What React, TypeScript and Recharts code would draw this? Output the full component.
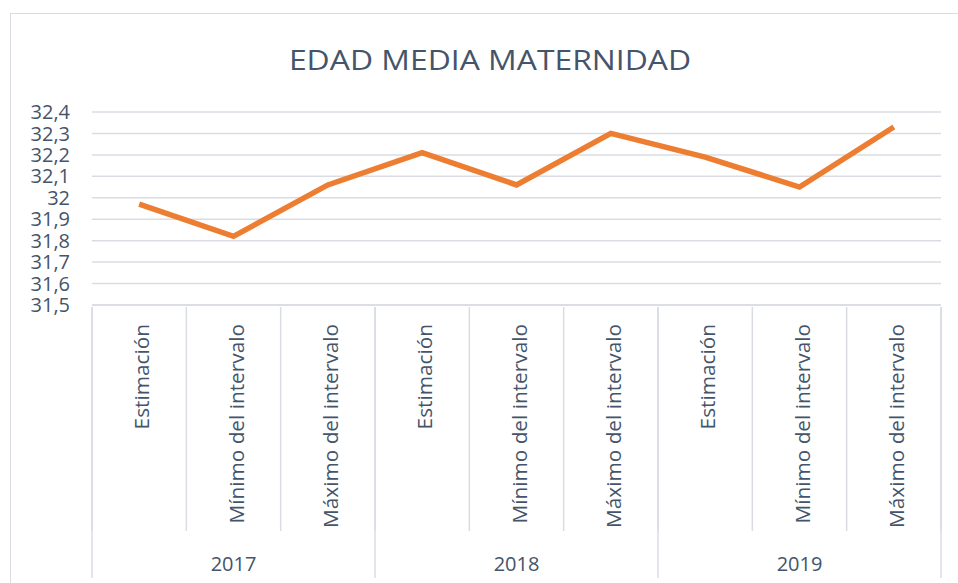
import { CartesianGrid, Line, LineChart, XAxis, YAxis } from 'recharts'

const categories = [
  'Estimación', 'Mínimo del intervalo', 'Máximo del intervalo',
  'Estimación', 'Mínimo del intervalo', 'Máximo del intervalo',
  'Estimación', 'Mínimo del intervalo', 'Máximo del intervalo',
]
const years = ['2017', '2017', '2017', '2018', '2018', '2018', '2019', '2019', '2019']
const edadMedia = [31.97, 31.82, 32.06, 32.21, 32.06, 32.3, 32.19, 32.05, 32.33]
const yTicks = [31.5, 31.6, 31.7, 31.8, 31.9, 32, 32.1, 32.2, 32.3, 32.4]

const data = categories.map((label, i) => ({ label, year: years[i], value: edadMedia[i] }))

const W = 958
const H = 583
const M = { top: 112, right: 17, bottom: 7, left: 10 }
const Y_W = 82
const CAT_H = 224
const YEAR_H = 47
const BAND = (W - M.left - M.right - Y_W) / categories.length
const GRID = '#D9DDE3'
const TEXT = '#44546A'

function CategoryTick({ x, y, payload, index }: any) {
  return (
    <g>
      <line x1={x - BAND / 2} x2={x - BAND / 2} y1={y} y2={y + CAT_H} stroke={GRID} strokeWidth={1.5} />
      {index === categories.length - 1 && (
        <line x1={x + BAND / 2} x2={x + BAND / 2} y1={y} y2={y + CAT_H} stroke={GRID} strokeWidth={1.5} />
      )}
      <text
        transform={`translate(${x + 10},${y + 17}) rotate(-90)`}
        textAnchor="end"
        fill={TEXT}
        fontSize={20.8}
      >
        {payload.value}
      </text>
    </g>
  )
}

function YearTick({ x, y, payload, index }: any) {
  const half = (BAND * 3) / 2
  return (
    <g>
      <line x1={x - half} x2={x - half} y1={y - CAT_H} y2={y + YEAR_H} stroke={GRID} strokeWidth={1.5} />
      {index === 2 && (
        <line x1={x + half} x2={x + half} y1={y - CAT_H} y2={y + YEAR_H} stroke={GRID} strokeWidth={1.5} />
      )}
      <text x={x} y={y + 40} textAnchor="middle" fill={TEXT} fontSize={20}>
        {payload.value}
      </text>
    </g>
  )
}

export default function App() {
  return (
    <div style={{ position: 'absolute', left: 0, top: 0, width: W, height: H, background: '#fff', fontFamily: '"Open Sans", sans-serif', overflow: 'hidden' }}>
      <div style={{ position: 'absolute', left: 10, top: 13, width: 990, height: 620, borderLeft: `1.5px solid ${GRID}`, borderTop: `1.5px solid ${GRID}` }} />
      <div style={{ position: 'absolute', left: 0, top: 41, width: 980, textAlign: 'center', fontSize: 27, color: TEXT, transform: 'scaleX(1.18)', transformOrigin: '490px 0' }}>
        EDAD MEDIA MATERNIDAD
      </div>
      <LineChart width={W} height={H} data={data} margin={M} style={{ position: 'absolute', left: 0, top: 0 }}>
        <CartesianGrid horizontal vertical={false} stroke={GRID} strokeWidth={1.5} />
        <XAxis
          dataKey="label"
          interval={0}
          padding={{ left: BAND / 2, right: BAND / 2 }}
          height={CAT_H}
          tickSize={0}
          tickLine={false}
          axisLine={{ stroke: GRID, strokeWidth: 1.5 }}
          tick={<CategoryTick />}
        />
        <XAxis
          xAxisId="year"
          dataKey="year"
          allowDuplicatedCategory={false}
          interval={0}
          padding={{ left: (BAND * 3) / 2, right: (BAND * 3) / 2 }}
          height={YEAR_H}
          tickSize={0}
          tickLine={false}
          axisLine={false}
          tick={<YearTick />}
        />
        <YAxis
          width={Y_W}
          domain={[31.5, 32.4]}
          ticks={yTicks}
          interval={0}
          axisLine={false}
          tickLine={false}
          tickSize={0}
          tickMargin={22}
          tick={{ fill: TEXT, fontSize: 20 }}
          tickFormatter={(v: number) => String(v).replace('.', ',')}
        />
        <Line
          type="linear"
          dataKey="value"
          stroke="#ED7D31"
          strokeWidth={5.5}
          dot={false}
          activeDot={false}
          isAnimationActive={false}
        />
      </LineChart>
    </div>
  )
}
